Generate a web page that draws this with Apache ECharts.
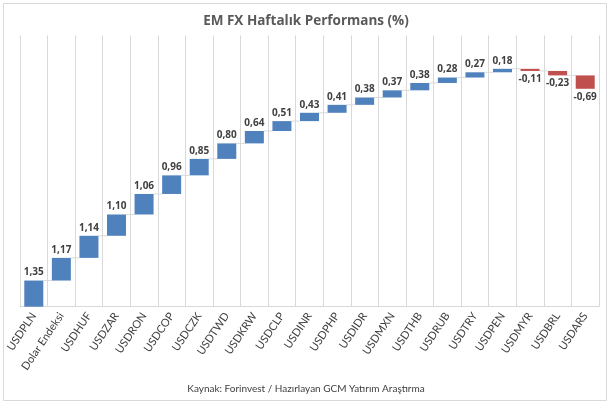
<!DOCTYPE html>
<html><head><meta charset="utf-8">
<script src="https://cdn.jsdelivr.net/npm/echarts@6/dist/echarts.min.js"></script>
<style>html,body{margin:0;padding:0;background:#fff}#c{width:612px;height:405px}</style>
</head><body><div id="c"></div>
<script>
const categories = ['USDPLN','Dolar Endeksi','USDHUF','USDZAR','USDRON','USDCOP','USDCZK','USDTWD','USDKRW','USDCLP','USDINR','USDPHP','USDIDR','USDMXN','USDTHB','USDRUB','USDTRY','USDPEN','USDMYR','USDBRL','USDARS'];
const changes = [1.35,1.17,1.14,1.10,1.06,0.96,0.85,0.80,0.64,0.51,0.43,0.41,0.38,0.37,0.38,0.28,0.27,0.18,-0.11,-0.23,-0.69];
const titleText = 'EM FX Haftalık Performans (%)';
const sourceText = 'Kaynak: Forinvest / Hazırlayan GCM Yatırım Araştırma';

let cum = 0;
const base = [], pos = [], neg = [], ends = [];
changes.forEach(v => {
  if (v >= 0) { base.push(cum); pos.push(v); neg.push('-'); }
  else { base.push(cum + v); pos.push('-'); neg.push(-v); }
  cum += v; ends.push(cum);
});
const connectors = [];
for (let i = 0; i < ends.length - 1; i++) connectors.push([i, ends[i]]);

const fmt = p => changes[p.dataIndex].toFixed(2).replace('.', ',');
const BW = 19;

const chart = echarts.init(document.getElementById('c'), null, {renderer: 'canvas'});
chart.setOption({
  animation: false,
  backgroundColor: '#fff',
  title: {
    text: titleText, left: 'center', top: 9,
    textStyle: {fontFamily: 'Open Sans', fontSize: 13.5, fontWeight: 'bold', color: '#595959'}
  },
  graphic: [
    {type: 'rect', shape: {x: 3.5, y: 3.5, width: 603, height: 397}, style: {fill: 'none', stroke: '#d9d9d9', lineWidth: 1}, silent: true},
    {type: 'text', left: 'center', top: 384, style: {text: sourceText, font: '10px Lato', fill: '#404040'}}
  ],
  grid: {left: 20, right: 13, top: 35.5, bottom: 98.3, containLabel: false},
  xAxis: {
    type: 'category', data: categories,
    axisLine: {lineStyle: {color: '#d9d9d9'}},
    axisTick: {show: false},
    splitLine: {show: true, lineStyle: {color: '#d9d9d9', width: 1}},
    axisLabel: {rotate: 56, interval: 0, margin: 7, fontFamily: 'Lato', fontSize: 11, color: '#404040'}
  },
  yAxis: {type: 'value', min: 0, max: 14, show: false, splitLine: {show: false}},
  series: [
    {type: 'bar', stack: 'w', data: base, barWidth: BW, itemStyle: {color: 'transparent'}, silent: true},
    {type: 'bar', stack: 'w', data: pos, barWidth: BW, itemStyle: {color: '#4f81bd'},
      label: {show: true, position: 'top', distance: 3, formatter: fmt, fontFamily: 'Open Sans', fontSize: 10, fontWeight: 'bold', color: '#404040'}},
    {type: 'bar', stack: 'w', data: neg, barWidth: BW, itemStyle: {color: '#c0504d'},
      label: {show: true, position: 'bottom', distance: 3, formatter: fmt, fontFamily: 'Open Sans', fontSize: 10, fontWeight: 'bold', color: '#404040'}},
    {type: 'custom', data: connectors, encode: {x: 0, y: 1}, silent: true, z: 1,
      renderItem: (params, api) => {
        const p1 = api.coord([api.value(0), api.value(1)]);
        const p2 = api.coord([api.value(0) + 1, api.value(1)]);
        return {type: 'line', shape: {x1: p1[0] + BW / 2, y1: p1[1], x2: p2[0] - BW / 2, y2: p2[1]},
          style: {stroke: '#d9d9d9', lineWidth: 1}};
      }}
  ]
});
</script></body></html>
